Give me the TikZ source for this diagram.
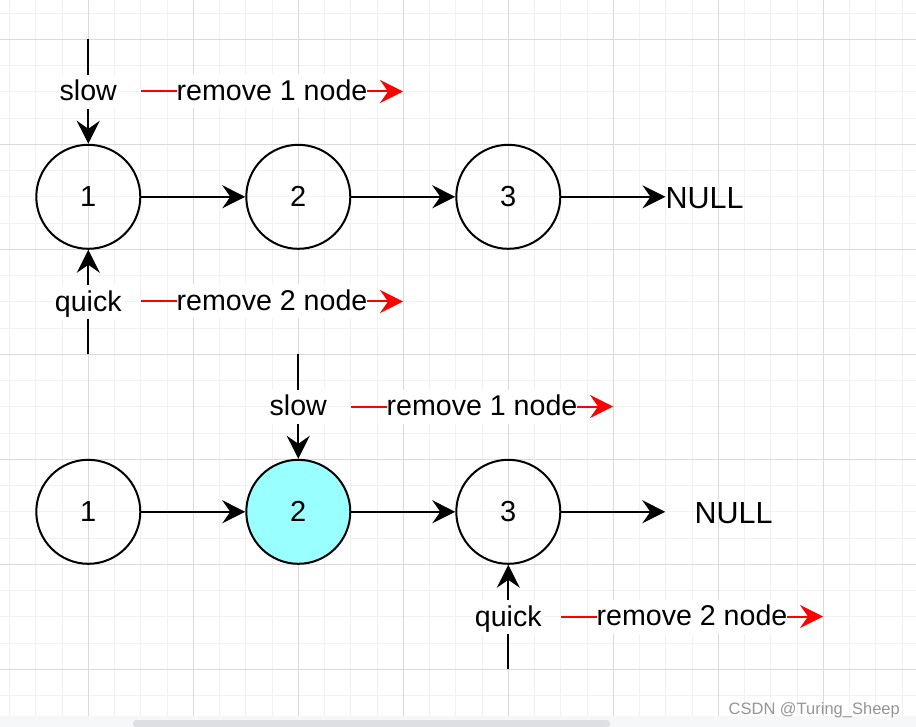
\documentclass[tikz,border=0pt]{standalone}
\usepackage{fontspec}
\setmainfont{Liberation Sans}
\usetikzlibrary{arrows.meta}
\definecolor{gmajor}{RGB}{218,218,218}
\definecolor{gminor}{RGB}{241,241,241}
\definecolor{cyanfill}{RGB}{153,255,255}
\definecolor{bandc}{RGB}{246,247,248}
\definecolor{barc}{RGB}{222,223,226}
\definecolor{wmark}{RGB}{150,150,150}
\begin{document}
\begin{tikzpicture}[x=1pt,y=-1pt,
  nd/.style={circle, draw, line width=2pt, minimum size=104pt, inner sep=0pt, font=\fontsize{29}{29}\selectfont},
  arr/.style={line width=2pt, -{Stealth[length=23pt,width=23pt,inset=8pt]}},
  redarr/.style={red, line width=2pt, -{Stealth[length=23pt,width=23pt,inset=8pt]}},
  lbl/.style={fill=white, text=black, inner xsep=0pt, inner ysep=2pt, text height=24pt, text depth=6pt, font=\fontsize{28.6}{28.6}\selectfont},
  vlbl/.style={lbl, inner xsep=2pt},
  nulltxt/.style={font=\fontsize{30.5}{30.5}\selectfont, inner sep=0pt},
  gridminor/.style={gminor, line width=1pt},
  gridmajor/.style={gmajor, line width=1pt}]
\useasboundingbox (0,0) rectangle (916,727);
\fill[white] (0,0) rectangle (916,727);
% grid
\foreach \j in {-3,...,31} {\pgfmathsetmacro\xx{88.3+26.25*\j} \draw[gridminor] (\xx,0) -- (\xx,716);}
\foreach \j in {-5,...,21} {\pgfmathsetmacro\yy{144.3+26.25*\j} \draw[gridminor] (0,\yy) -- (916,\yy);}
\foreach \k in {0,...,7} {\pgfmathsetmacro\xx{88.3+105*\k} \draw[gridmajor] (\xx,0) -- (\xx,716);}
\foreach \k in {0,...,6} {\pgfmathsetmacro\yy{39.3+105*\k} \draw[gridmajor] (0,\yy) -- (916,\yy);}
% bottom band and scrollbar
\fill[bandc] (0,716) rectangle (916,727);
\fill[barc, rounded corners=3pt] (133,720) rectangle (610,727);

% ---- top row ----
\node[nd] (a1) at (88.3,196.8) {1};
\node[nd] (a2) at (298.3,196.8) {2};
\node[nd] (a3) at (508.3,196.8) {3};
\node[nulltxt, anchor=west] (anull) at (665.5,197.8) {NULL};
\draw[arr] (a1) -- (a2);
\draw[arr] (a2) -- (a3);
\draw[arr] (a3) -- (a3 -| anull.west);

\coordinate (aslowtop) at (88.3,39.3);
\draw[arr] (aslowtop) -- (a1) node[midway, vlbl] (aslow) {slow};
\coordinate (ar1s) at (141,91.5);
\coordinate (ar1e) at (403,91.5);
\draw[redarr] (ar1s) -- (ar1e) node[midway, lbl] (ar1) {remove 1 node};

\coordinate (aquickbot) at (88.3,354.3);
\draw[arr] (aquickbot) -- (a1) node[midway, vlbl] (aquick) {quick};
\coordinate (ar2s) at (141,301.5);
\coordinate (ar2e) at (403,301.5);
\draw[redarr] (ar2s) -- (ar2e) node[midway, lbl] (ar2) {remove 2 node};

% ---- bottom row ----
\node[nd] (b1) at (88.3,511.8) {1};
\node[nd, fill=cyanfill] (b2) at (298.3,511.8) {2};
\node[nd] (b3) at (508.3,511.8) {3};
\node[nulltxt, inner xsep=29pt] (bnull) at (733.5,512.8) {NULL};
\draw[arr] (b1) -- (b2);
\draw[arr] (b2) -- (b3);
\draw[arr] (b3) -- (b3 -| bnull.west);

\coordinate (bslowtop) at (298.3,354.3);
\draw[arr] (bslowtop) -- (b2) node[midway, vlbl] (bslow) {slow};
\coordinate (br1s) at (351,406.5);
\coordinate (br1e) at (613,406.5);
\draw[redarr] (br1s) -- (br1e) node[midway, lbl] (br1) {remove 1 node};

\coordinate (bquickbot) at (508.3,669.3);
\draw[arr] (bquickbot) -- (b3) node[midway, vlbl] (bquick) {quick};
\coordinate (br2s) at (561,616.5);
\coordinate (br2e) at (823,616.5);
\draw[redarr] (br2s) -- (br2e) node[midway, lbl] (br2) {remove 2 node};

% watermark
\node[anchor=base east, font=\fontsize{16.5}{16.5}\selectfont, text=wmark, inner sep=0pt] (wm) at (900,714) {CSDN @Turing\_Sheep};
\end{tikzpicture}
\end{document}
